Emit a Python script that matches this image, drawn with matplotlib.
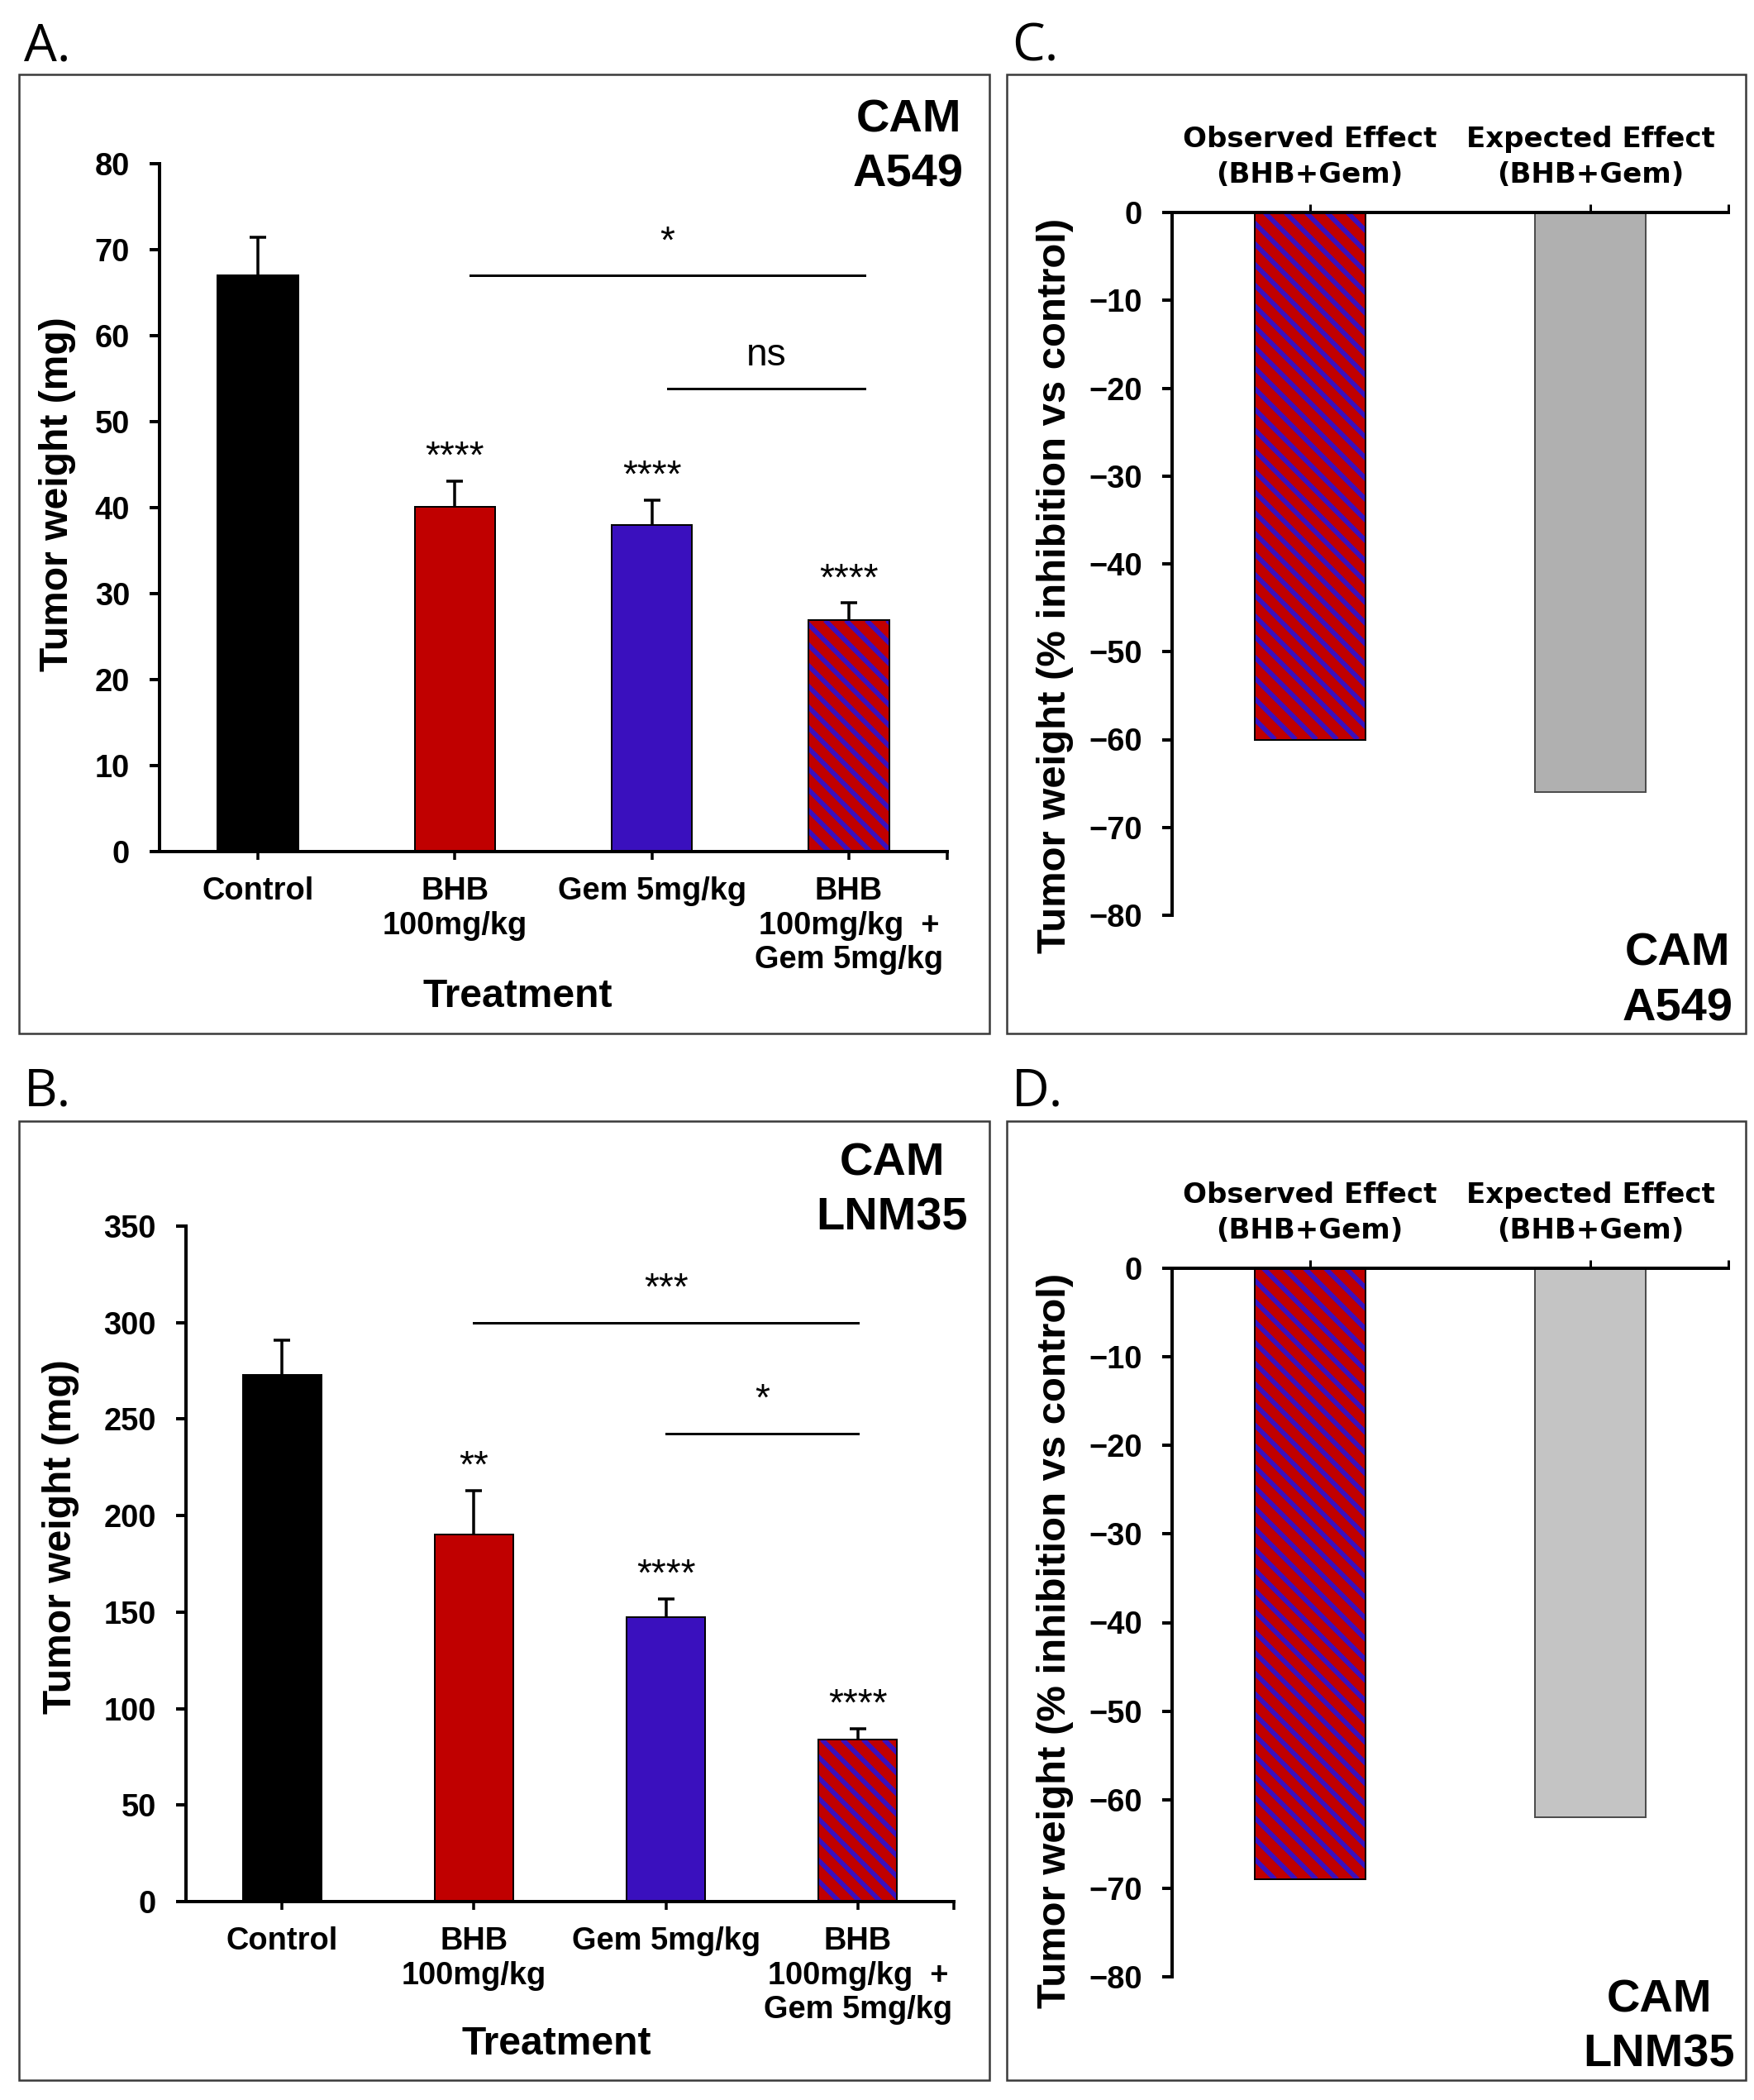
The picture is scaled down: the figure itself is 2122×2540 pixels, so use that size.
import numpy as np
import matplotlib
matplotlib.use('Agg')
import matplotlib.pyplot as plt
from matplotlib.patches import Rectangle
from matplotlib.collections import LineCollection
from matplotlib.transforms import IdentityTransform

DPI = 150
W, H = 2122, 2540


def pt(px):
    # pixel size at DPI -> points
    return px * 72.0 / DPI


plt.rcParams['font.family'] = ['Liberation Sans', 'DejaVu Sans']
plt.rcParams['font.weight'] = 'bold'
plt.rcParams['axes.labelweight'] = 'bold'

# ---- data ----
treatments = ['Control', 'BHB\n100mg/kg', 'Gem 5mg/kg', 'BHB\n100mg/kg  +\nGem 5mg/kg']

a549_mean = [67.0, 40.1, 38.0, 26.9]
a549_sem = [4.4, 3.0, 2.9, 2.0]
a549_stars = ['', '****', '****', '****']
a549_brackets = [(1, 3, 67.0, '*'), (2, 3, 53.8, 'ns')]

lnm35_mean = [273.0, 190.0, 147.5, 84.0]
lnm35_sem = [18.0, 23.0, 9.5, 5.5]
lnm35_stars = ['', '**', '****', '****']
lnm35_brackets = [(1, 3, 300.0, '***'), (2, 3, 242.5, '*')]

effect_labels = ['Observed Effect\n(BHB+Gem)', 'Expected Effect\n(BHB+Gem)']
a549_effect = [-60.0, -66.0]
lnm35_effect = [-69.0, -62.0]

RED = '#C00000'
BLUE = '#3A10BE'
bar_colors = ['#000000', RED, BLUE]

fig = plt.figure(figsize=(W / DPI, H / DPI), dpi=DPI)


def add_ax(l, t, r, b):
    return fig.add_axes([l / W, 1 - b / H, (r - l) / W, (b - t) / H])


def frame(l, t, r, b, letter, baseline):
    fig.add_artist(Rectangle((l / W, 1 - b / H), (r - l) / W, (b - t) / H,
                             transform=fig.transFigure, fill=False,
                             edgecolor='#3a3a3a', linewidth=pt(2.5)))
    fig.text((l + 6) / W, 1 - baseline / H, letter, ha='left', va='baseline',
             fontsize=pt(63), fontweight='normal',
             family=['Open Sans', 'DejaVu Sans'])


def cell_tag(xc, y1, y2, line1, line2):
    fig.text(xc / W, 1 - y1 / H, line1, ha='center', va='baseline', fontsize=pt(56))
    fig.text(xc / W, 1 - y2 / H, line2, ha='center', va='baseline', fontsize=pt(56))


def hatched_bar(ax, x, h, width, period=25, stripe=5.8):
    # red bar with blue diagonal stripes (top-left to bottom-right), black outline
    patch = ax.bar(x, h, width, color=RED, linewidth=0, zorder=2)[0]
    bb = patch.get_window_extent()
    hgt = bb.height
    xs = np.arange(bb.x0 - hgt - period, bb.x1 + period, period)
    segs = [[(xx, bb.y1), (xx + hgt, bb.y0)] for xx in xs]
    lc = LineCollection(segs, colors=BLUE, linewidths=pt(stripe),
                        transform=IdentityTransform(), zorder=2.5)
    ax.add_collection(lc, autolim=False)
    lc.set_clip_box(None)
    lc.set_clip_path(patch.get_path(), patch.get_transform())
    ax.bar(x, h, width, fill=False, edgecolor='black', linewidth=pt(2), zorder=3)


def treatment_panel(ax, means, sems, stars, brackets, ymax, ystep, shift):
    x = np.arange(len(treatments))
    width = 0.41
    ax.set_xlim(-0.5, 3.5)
    ax.set_ylim(0, ymax)
    eb = ax.errorbar(x, means, yerr=[np.zeros(len(x)), sems], fmt='none', ecolor='black',
                     elinewidth=pt(3.5), capsize=pt(10), capthick=pt(3.5), zorder=1)
    for cap in eb.lines[1]:
        if np.allclose(cap.get_ydata(), means):
            cap.set_visible(False)
    ax.bar(x[:3], means[:3], width, color=bar_colors, edgecolor='black',
           linewidth=pt(2), zorder=2)
    hatched_bar(ax, x[3], means[3], width)
    for xi, m, s, lab in zip(x, means, sems, stars):
        if lab:
            ax.annotate(lab, (xi, m + s), xytext=(0, pt(16)), textcoords='offset points',
                        ha='center', va='baseline', fontsize=pt(46), fontweight='normal')
    for i0, i1, y, lab in brackets:
        x0, x1 = i0 + shift, i1 + shift
        ax.plot([x0, x1], [y, y], color='black', lw=pt(3), zorder=2)
        ax.annotate(lab, ((x0 + x1) / 2, y), xytext=(0, pt(28)), textcoords='offset points',
                    ha='center', va='baseline', fontsize=pt(46), fontweight='normal')
    ax.set_yticks(np.arange(0, ymax + 1, ystep))
    ax.set_xticks(x)
    ax.set_xticklabels(treatments)
    ax.set_xticks([3.5], minor=True)
    for s in ['top', 'right']:
        ax.spines[s].set_visible(False)
    for s in ['left', 'bottom']:
        ax.spines[s].set_linewidth(pt(4))
    ax.tick_params(axis='y', direction='out', length=pt(12), width=pt(4),
                   pad=pt(24), labelsize=pt(38))
    ax.tick_params(axis='x', which='both', direction='out', length=pt(10), width=pt(3.5),
                   pad=pt(20), labelsize=pt(38))
    ax.set_ylabel('Tumor weight (mg)', fontsize=pt(48))
    ax.set_xlabel('Treatment', fontsize=pt(48), va='baseline')


def effect_panel(ax, values, grey):
    x = np.arange(len(effect_labels))
    width = 0.394
    ax.set_xlim(-0.49, 1.49)
    ax.set_ylim(-80, 0)
    hatched_bar(ax, x[0], values[0], width)
    ax.bar(x[1], values[1], width, color=grey, edgecolor='#4d4d4d',
           linewidth=pt(2), zorder=2)
    ax.set_yticks(np.arange(-80, 1, 10))
    ax.xaxis.tick_top()
    ax.set_xticks(x)
    ax.set_xticklabels(effect_labels, family=['DejaVu Sans'], fontsize=pt(34),
                       fontweight='bold', linespacing=1.38)
    ax.set_xticks([1.49], minor=True)
    for s in ['bottom', 'right']:
        ax.spines[s].set_visible(False)
    for s in ['left', 'top']:
        ax.spines[s].set_linewidth(pt(4))
    ax.tick_params(axis='x', which='both', direction='out', length=pt(10), width=pt(3),
                   pad=pt(19), top=True, bottom=False, labeltop=True, labelbottom=False)
    ax.tick_params(axis='y', direction='out', length=pt(12), width=pt(4),
                   pad=pt(24), labelsize=pt(38))
    ax.set_ylabel('Tumor weight (% inhibition vs control)', fontsize=pt(49))


# panel frames and letters
frame(23, 90, 1197, 1250, 'A.', 74)
frame(23, 1356, 1197, 2516, 'B.', 1338)
frame(1218, 90, 2112, 1250, 'C.', 74)
frame(1218, 1356, 2112, 2516, 'D.', 1338)

# A
axA = add_ax(193, 198, 1146, 1030)
treatment_panel(axA, a549_mean, a549_sem, a549_stars, a549_brackets, 80, 10, 0.08)
axA.yaxis.set_label_coords(-0.106, 0.52)
axA.xaxis.set_label_coords(0.455, -0.226)
cell_tag(1099, 159, 226, 'CAM', 'A549')

# B
axB = add_ax(225, 1483, 1154, 2300)
treatment_panel(axB, lnm35_mean, lnm35_sem, lnm35_stars, lnm35_brackets, 350, 50, 0.0)
axB.yaxis.set_label_coords(-0.139, 0.54)
axB.xaxis.set_label_coords(0.483, -0.226)
cell_tag(1079, 1422, 1487, 'CAM', 'LNM35')

# C
axC = add_ax(1418, 257, 2091, 1107)
effect_panel(axC, a549_effect, '#B0B0B0')
axC.yaxis.set_label_coords(-0.177, 0.469)
cell_tag(2030, 1168, 1234, 'CAM', 'A549')

# D
axD = add_ax(1418, 1534, 2091, 2391)
effect_panel(axD, lnm35_effect, '#C4C4C4')
axD.yaxis.set_label_coords(-0.177, 0.475)
cell_tag(2007, 2434, 2500, 'CAM', 'LNM35')

fig.savefig('out.png', dpi=DPI, facecolor='white')
